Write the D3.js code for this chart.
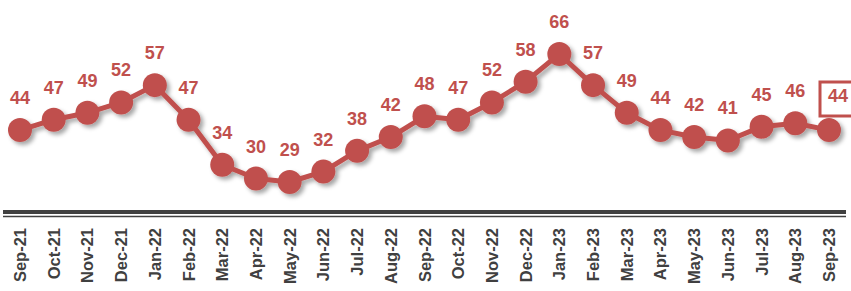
<!DOCTYPE html>
<html>
<head>
<meta charset="UTF-8" />
<script src="https://d3js.org/d3.v7.min.js"></script>
<style>
  body { margin: 0; background: #fff; }
  svg { display: block; }
  .val { font-family: "Liberation Sans Narrow", "Liberation Sans", sans-serif; font-weight: bold; font-size: 18px; fill: #c0504d; }
  .tick-lbl { font-family: "Liberation Sans", sans-serif; font-weight: bold; font-size: 16.5px; fill: #404040; }
</style>
</head>
<body>
<svg id="chart"></svg>
<script>
  const months = ["Sep-21","Oct-21","Nov-21","Dec-21","Jan-22","Feb-22","Mar-22","Apr-22","May-22","Jun-22","Jul-22","Aug-22",
                  "Sep-22","Oct-22","Nov-22","Dec-22","Jan-23","Feb-23","Mar-23","Apr-23","May-23","Jun-23","Jul-23","Aug-23","Sep-23"];
  const values = [44,47,49,52,57,47,34,30,29,32,38,42,48,47,52,58,66,57,49,44,42,41,45,46,44];

  const width = 851, height = 291;
  const red = "#c0504d";

  const svg = d3.select("#chart").attr("width", width).attr("height", height);

  const defs = svg.append("defs");
  const f = defs.append("filter").attr("id", "shadow")
    .attr("x", "-50%").attr("y", "-50%").attr("width", "200%").attr("height", "200%");
  f.append("feDropShadow").attr("dx", 3).attr("dy", 3).attr("stdDeviation", 2)
    .attr("flood-color", "#000").attr("flood-opacity", 0.35);

  const x = d3.scalePoint().domain(months).range([20, 829]);
  const y = d3.scaleLinear().domain([29, 66]).range([182, 54]);

  const data = months.map((m, i) => ({ m, v: values[i] }));

  // axis: thick + thin double rule
  svg.append("line").attr("x1", 3).attr("x2", 846).attr("y1", 212).attr("y2", 212)
    .attr("stroke", "#404040").attr("stroke-width", 4);
  svg.append("line").attr("x1", 3).attr("x2", 846).attr("y1", 216.5).attr("y2", 216.5)
    .attr("stroke", "#404040").attr("stroke-width", 1.5);

  const g = svg.append("g").attr("filter", "url(#shadow)");
  const line = d3.line().x(d => x(d.m)).y(d => y(d.v));
  g.append("path").datum(data).attr("d", line)
    .attr("fill", "none").attr("stroke", red).attr("stroke-width", 5).attr("stroke-linejoin", "round");
  g.selectAll("circle").data(data).join("circle")
    .attr("cx", d => x(d.m)).attr("cy", d => y(d.v)).attr("r", 12).attr("fill", red);

  const last = data.length - 1;
  svg.selectAll("text.val").data(data).join("text")
    .attr("class", "val")
    .attr("x", (d, i) => x(d.m) + (i === last ? 9 : 0))
    .attr("y", (d, i) => y(d.v) - (i === last ? 28 : 26))
    .attr("text-anchor", "middle")
    .text(d => d.v);

  // box around latest value
  svg.append("rect").attr("x", 820).attr("y", 82).attr("width", 34).attr("height", 34)
    .attr("fill", "none").attr("stroke", red).attr("stroke-width", 3);

  svg.selectAll("text.tick-lbl").data(months).join("text")
    .attr("class", "tick-lbl")
    .attr("transform", d => `translate(${x(d) + 6},228) rotate(-90)`)
    .attr("text-anchor", "end")
    .text(d => d);
</script>
</body>
</html>
